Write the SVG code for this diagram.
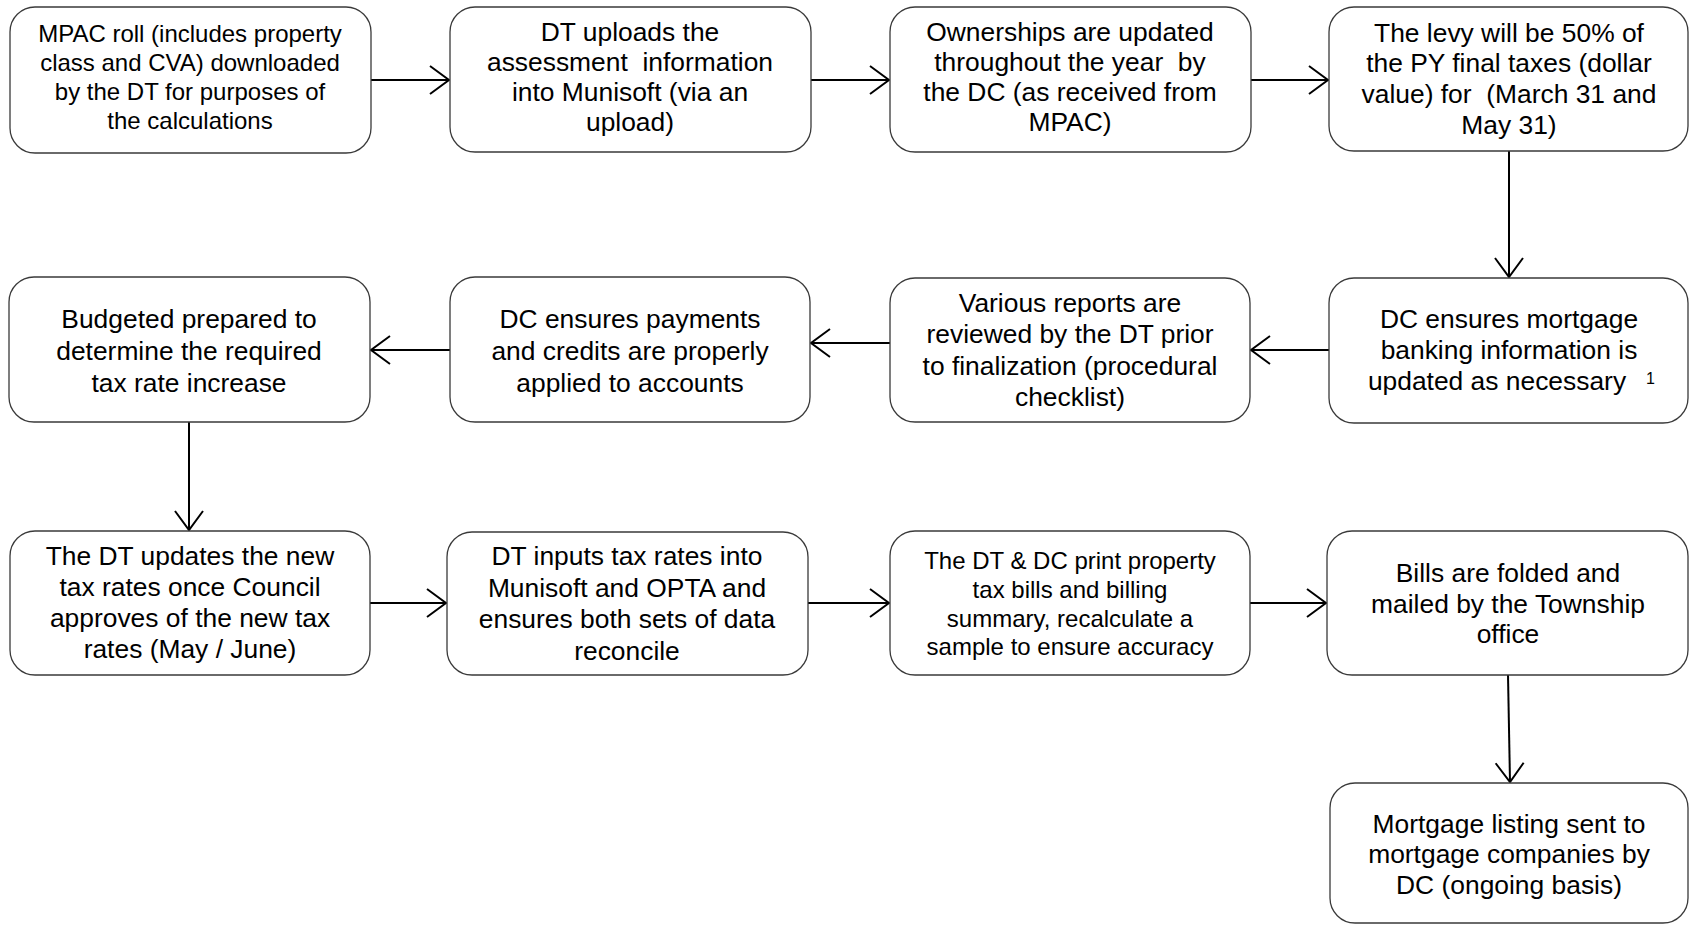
<svg xmlns="http://www.w3.org/2000/svg" width="1689" height="925" viewBox="0 0 1689 925">
  <style>
    .box { fill: #ffffff; stroke: #3a3a3a; stroke-width: 1.3; }
    .lbl { font-family: "Liberation Sans", Arial, sans-serif; font-size: 26.4px; fill: #000000; text-anchor: middle; }
    .sm { font-size: 24px; }
    .sup { font-family: "Liberation Sans", Arial, sans-serif; font-size: 16px; fill: #000000; }
    .conn { stroke: #000000; stroke-width: 2; fill: none; marker-end: url(#open); }
  </style>
  <defs>
    <marker id="open" markerUnits="userSpaceOnUse" markerWidth="40" markerHeight="40" viewBox="-20 -20 40 40" refX="0" refY="0" orient="auto" overflow="visible">
      <path d="M -19 -14 L 0 0 L -19 14" fill="none" stroke="#000000" stroke-width="2"/>
    </marker>
  </defs>
  <rect width="1689" height="925" fill="#ffffff"/>

  <g id="connectors">
    <line class="conn" x1="371" y1="80" x2="449" y2="80"/>
    <line class="conn" x1="811" y1="80" x2="889" y2="80"/>
    <line class="conn" x1="1251" y1="80" x2="1328" y2="80"/>
    <line class="conn" x1="1509" y1="151" x2="1509" y2="277"/>
    <line class="conn" x1="1329" y1="350" x2="1251" y2="350"/>
    <line class="conn" x1="890" y1="343" x2="811" y2="343"/>
    <line class="conn" x1="450" y1="350" x2="371" y2="350"/>
    <line class="conn" x1="189" y1="422" x2="189" y2="530"/>
    <line class="conn" x1="370" y1="603" x2="446" y2="603"/>
    <line class="conn" x1="808" y1="603" x2="889" y2="603"/>
    <line class="conn" x1="1250" y1="603" x2="1326" y2="603"/>
    <line class="conn" x1="1508" y1="675" x2="1510" y2="782"/>
  </g>

  <g id="mpac-roll">
    <rect class="box" x="10" y="7" width="361" height="146" rx="25"/>
    <text class="lbl sm"><tspan x="190" y="42">MPAC roll (includes property</tspan><tspan x="190" y="71">class and CVA) downloaded</tspan><tspan x="190" y="100">by the DT for purposes of</tspan><tspan x="190" y="129">the calculations</tspan></text>
  </g>

  <g id="dt-upload">
    <rect class="box" x="450" y="7" width="361" height="145" rx="25"/>
    <text class="lbl"><tspan x="630" y="41">DT uploads the</tspan><tspan x="630" y="71">assessment&#160; information</tspan><tspan x="630" y="101">into Munisoft (via an</tspan><tspan x="630" y="131">upload)</tspan></text>
  </g>

  <g id="ownerships">
    <rect class="box" x="890" y="7" width="361" height="145" rx="25"/>
    <text class="lbl"><tspan x="1070" y="41">Ownerships are updated</tspan><tspan x="1070" y="71">throughout the year&#160; by</tspan><tspan x="1070" y="101">the DC (as received from</tspan><tspan x="1070" y="131">MPAC)</tspan></text>
  </g>

  <g id="levy">
    <rect class="box" x="1329" y="7" width="359" height="144" rx="25"/>
    <text class="lbl"><tspan x="1509" y="42">The levy will be 50% of</tspan><tspan x="1509" y="72">the PY final taxes (dollar</tspan><tspan x="1509" y="103">value) for&#160; (March 31 and</tspan><tspan x="1509" y="134">May 31)</tspan></text>
  </g>

  <g id="mortgage-banking">
    <rect class="box" x="1329" y="278" width="359" height="145" rx="25"/>
    <text class="lbl"><tspan x="1509" y="328">DC ensures mortgage</tspan><tspan x="1509" y="359">banking information is</tspan><tspan x="1497" y="390">updated as necessary</tspan></text>
    <text class="sup" x="1646" y="384">1</text>
  </g>

  <g id="various-reports">
    <rect class="box" x="890" y="278" width="360" height="144" rx="25"/>
    <text class="lbl"><tspan x="1070" y="312">Various reports are</tspan><tspan x="1070" y="343">reviewed by the DT prior</tspan><tspan x="1070" y="375">to finalization (procedural</tspan><tspan x="1070" y="406">checklist)</tspan></text>
  </g>

  <g id="payments">
    <rect class="box" x="450" y="277" width="360" height="145" rx="25"/>
    <text class="lbl"><tspan x="630" y="328">DC ensures payments</tspan><tspan x="630" y="360">and credits are properly</tspan><tspan x="630" y="392">applied to accounts</tspan></text>
  </g>

  <g id="budget">
    <rect class="box" x="9" y="277" width="361" height="145" rx="25"/>
    <text class="lbl"><tspan x="189" y="328">Budgeted prepared to</tspan><tspan x="189" y="360">determine the required</tspan><tspan x="189" y="392">tax rate increase</tspan></text>
  </g>

  <g id="update-rates">
    <rect class="box" x="10" y="531" width="360" height="144" rx="25"/>
    <text class="lbl"><tspan x="190" y="565">The DT updates the new</tspan><tspan x="190" y="596">tax rates once Council</tspan><tspan x="190" y="627">approves of the new tax</tspan><tspan x="190" y="658">rates (May / June)</tspan></text>
  </g>

  <g id="input-rates">
    <rect class="box" x="447" y="532" width="361" height="143" rx="25"/>
    <text class="lbl"><tspan x="627" y="565">DT inputs tax rates into</tspan><tspan x="627" y="597">Munisoft and OPTA and</tspan><tspan x="627" y="628">ensures both sets of data</tspan><tspan x="627" y="660">reconcile</tspan></text>
  </g>

  <g id="print-bills">
    <rect class="box" x="890" y="531" width="360" height="144" rx="25"/>
    <text class="lbl sm"><tspan x="1070" y="569">The DT &amp; DC print property</tspan><tspan x="1070" y="598">tax bills and billing</tspan><tspan x="1070" y="627">summary, recalculate a</tspan><tspan x="1070" y="655">sample to ensure accuracy</tspan></text>
  </g>

  <g id="mail-bills">
    <rect class="box" x="1327" y="531" width="361" height="144" rx="25"/>
    <text class="lbl"><tspan x="1508" y="582">Bills are folded and</tspan><tspan x="1508" y="613">mailed by the Township</tspan><tspan x="1508" y="643">office</tspan></text>
  </g>

  <g id="mortgage-listing">
    <rect class="box" x="1330" y="783" width="358" height="140" rx="25"/>
    <text class="lbl"><tspan x="1509" y="833">Mortgage listing sent to</tspan><tspan x="1509" y="863">mortgage companies by</tspan><tspan x="1509" y="894">DC (ongoing basis)</tspan></text>
  </g>
</svg>
